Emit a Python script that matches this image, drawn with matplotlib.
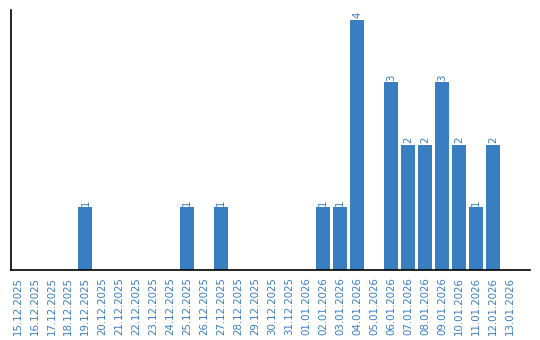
import matplotlib
matplotlib.use('Agg')
import matplotlib.pyplot as plt

dates = ['15.12.2025', '16.12.2025', '17.12.2025', '18.12.2025', '19.12.2025',
         '20.12.2025', '21.12.2025', '22.12.2025', '23.12.2025', '24.12.2025',
         '25.12.2025', '26.12.2025', '27.12.2025', '28.12.2025', '29.12.2025',
         '30.12.2025', '31.12.2025', '01.01.2026', '02.01.2026', '03.01.2026',
         '04.01.2026', '05.01.2026', '06.01.2026', '07.01.2026', '08.01.2026',
         '09.01.2026', '10.01.2026', '11.01.2026', '12.01.2026', '13.01.2026']
counts = [0, 0, 0, 0, 1, 0, 0, 0, 0, 0,
          1, 0, 1, 0, 0, 0, 0, 0, 1, 1,
          4, 0, 3, 2, 2, 3, 2, 1, 2, 0]

blue = '#3a7ec2'

fig = plt.figure(figsize=(5.4, 3.4), dpi=100)
ax = fig.add_axes([10.5 / 540, 0.206, 519.5 / 540, 0.765])

x = list(range(len(dates)))
ax.bar(x, counts, width=0.82, color=blue)

# Zahlen über den Balken
for i, v in enumerate(counts):
    if v > 0:
        ax.text(i, v + 0.03, str(v), rotation=90, ha='center', va='bottom',
                color=blue, fontsize=7.3)

ax.set_xlim(-0.41, 30.18)
ax.set_ylim(0, 4.16)
ax.set_xticks(x)
ax.set_xticklabels(dates, rotation=90, color=blue, fontsize=7.4)
ax.tick_params(axis='x', length=0, pad=5)
ax.set_yticks([])
ax.spines['top'].set_visible(False)
ax.spines['right'].set_visible(False)
ax.spines['left'].set_linewidth(1.2)
ax.spines['bottom'].set_linewidth(1.2)

fig.savefig('out.png', dpi=100)
